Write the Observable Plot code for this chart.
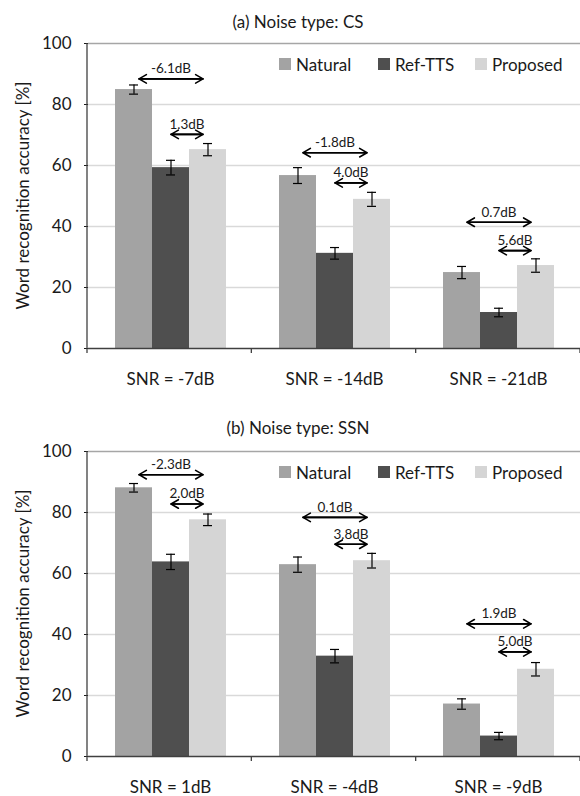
<!DOCTYPE html>
<html><head><meta charset="utf-8">
<script src="https://cdn.jsdelivr.net/npm/d3@7"></script>
<script src="https://cdn.jsdelivr.net/npm/@observablehq/plot@0.6"></script>
<style>
body{margin:0;width:580px;height:796px;overflow:hidden;background:#fff;font-family:Lato,sans-serif;color:#1a1a1a}
.chart{position:relative;width:580px}
.title{position:absolute;left:0;width:596px;text-align:center;font-size:17px;line-height:20px}
.item{position:absolute;top:56px;height:16px;display:flex;align-items:center;white-space:nowrap;font-size:17px}
.sw{width:12px;height:12px;margin-right:5px}
svg{display:block;overflow:visible}
</style></head><body>
<div id="a" class="chart" style="height:408px"></div>
<div id="b" class="chart" style="height:388px"></div>
<script>
const seriesNames = ["Natural", "Ref-TTS", "Proposed"];
const seriesColors = ["#a3a3a3", "#4f4f4f", "#d5d5d5"];
const yTicks = [0, 20, 40, 60, 80, 100];
const yLabel = "Word recognition accuracy [%]";

// (a) CS
const csTitle = "(a) Noise type: CS";
const csConditions = ["SNR = -7dB", "SNR = -14dB", "SNR = -21dB"];
const csNatural = [84.9, 56.7, 24.9];
const csRefTTS = [59.3, 31.2, 11.8];
const csProposed = [65.2, 48.9, 27.2];
const csNaturalErr = [1.5, 2.6, 2.0];
const csRefTTSErr = [2.4, 1.9, 1.4];
const csProposedErr = [2.0, 2.3, 2.2];
const csLongLabels = ["-6.1dB", "-1.8dB", "0.7dB"];
const csLongY = [88.4, 64.2, 41.4];
const csShortLabels = ["1.3dB", "4.0dB", "5.6dB"];
const csShortY = [70.2, 54.3, 32.1];

// (b) SSN
const ssnTitle = "(b) Noise type: SSN";
const ssnConditions = ["SNR = 1dB", "SNR = -4dB", "SNR = -9dB"];
const ssnNatural = [88.1, 62.9, 17.2];
const ssnRefTTS = [63.8, 32.9, 6.7];
const ssnProposed = [77.6, 64.2, 28.6];
const ssnNaturalErr = [1.4, 2.5, 1.7];
const ssnRefTTSErr = [2.5, 2.2, 1.2];
const ssnProposedErr = [1.9, 2.4, 2.2];
const ssnLongLabels = ["-2.3dB", "0.1dB", "1.9dB"];
const ssnLongY = [92.4, 78.4, 43.5];
const ssnShortLabels = ["2.0dB", "3.8dB", "5.0dB"];
const ssnShortY = [82.8, 69.6, 34.3];

function buildRows(conds, vals, errs) {
  const rows = [];
  conds.forEach((c, i) => seriesNames.forEach((s, j) =>
    rows.push({cond: c, series: s, value: vals[j][i], err: errs[j][i]})));
  return rows;
}
function buildAnn(conds, labels, ys, from, to) {
  return conds.map((c, i) => ({cond: c, label: labels[i], y: ys[i], from, to}));
}

function draw(id, title, titleTop, conds, rows, annLong, annShort, height, marginBottom) {
  const el = document.getElementById(id);
  const t = document.createElement("div");
  t.className = "title"; t.style.top = titleTop + "px"; t.textContent = title;
  const lo = d => d.value - d.err, hi = d => d.value + d.err;
  const arrowOpts = {fx: "cond", y1: "y", y2: "y", stroke: "#000", strokeWidth: 1.6, headLength: 8};
  const chart = Plot.plot({
    width: 580, height, marginTop: 43, marginBottom, marginLeft: 87, marginRight: 0,
    style: {fontFamily: "Lato, sans-serif", fontSize: "17px", color: "#1a1a1a", background: "transparent", overflow: "visible"},
    fx: {domain: conds, padding: 0, axis: "bottom", tickSize: 0, tickPadding: 24, label: null},
    x: {domain: seriesNames, padding: 0, axis: null, insetLeft: 27, insetRight: 26},
    y: {domain: [0, 100], ticks: yTicks, tickSize: 4, tickPadding: 13, label: null},
    color: {domain: seriesNames, range: seriesColors},
    marks: [
      Plot.ruleY(yTicks.filter(v => v > 0 && v < 100), {stroke: "#d9d9d9", strokeWidth: 1.3}),
      Plot.ruleY([100], {stroke: "#a6a6a6", strokeWidth: 1.3}),
      Plot.barY(rows, {fx: "cond", x: "series", y: "value", fill: "series"}),
      Plot.ruleX(rows, {fx: "cond", x: "series", y1: lo, y2: hi, stroke: "#000", strokeWidth: 1.2}),
      Plot.tickY(rows, {fx: "cond", x: "series", y: lo, stroke: "#000", strokeWidth: 1.2, insetLeft: 14, insetRight: 14}),
      Plot.tickY(rows, {fx: "cond", x: "series", y: hi, stroke: "#000", strokeWidth: 1.2, insetLeft: 14, insetRight: 14}),
      Plot.ruleY([0], {stroke: "#404040", strokeWidth: 1.3}),
      Plot.arrow(annLong, {...arrowOpts, x1: "from", x2: "to", insetStart: 5, insetEnd: 5}),
      Plot.arrow(annLong, {...arrowOpts, x1: "to", x2: "from", insetStart: 5, insetEnd: 5}),
      Plot.arrow(annShort, {...arrowOpts, x1: "from", x2: "to", insetStart: 0, insetEnd: 5}),
      Plot.arrow(annShort, {...arrowOpts, x1: "to", x2: "from", insetStart: 5, insetEnd: 0}),
      Plot.text(annLong, {fx: "cond", x: () => "Ref-TTS", y: "y", text: "label", dy: -10, fontSize: 13.5, fill: "#1a1a1a"}),
      Plot.text(annShort, {fx: "cond", x: () => "Ref-TTS", y: "y", text: "label", dy: -10, dx: 16, fontSize: 13.5, fill: "#1a1a1a"})
    ]
  });
  const svgNode = chart.tagName.toLowerCase() === "svg" ? chart : chart.querySelector("svg");
  const svg = d3.select(svgNode);
  const fxS = chart.scale("fx"), yS = chart.scale("y");
  const [r0, r1] = fxS.range, n = fxS.domain.length;
  const y0 = yS.range[0], yTop = yS.range[1];
  svg.append("line").attr("x1", r0).attr("x2", r0).attr("y1", yTop).attr("y2", y0 + 5)
    .attr("stroke", "#404040").attr("stroke-width", 1.3);
  for (let i = 1; i <= n; i++) {
    const x = r0 + i * (r1 - r0) / n;
    svg.append("line").attr("x1", x).attr("x2", x).attr("y1", y0).attr("y2", y0 + 5)
      .attr("stroke", "#404040").attr("stroke-width", 1.3);
  }
  svg.append("text").attr("transform", `translate(22,${(y0 + yTop) / 2}) rotate(-90)`)
    .attr("text-anchor", "middle").attr("dominant-baseline", "central")
    .attr("font-size", 17).attr("fill", "#1a1a1a").text(yLabel);
  el.appendChild(chart);
  el.appendChild(t);
  const legendLeft = [279, 378, 475];
  seriesNames.forEach((s, j) => {
    const it = document.createElement("div");
    it.className = "item"; it.style.left = legendLeft[j] + "px";
    const sw = document.createElement("span"); sw.className = "sw"; sw.style.background = seriesColors[j];
    const tx = document.createElement("span"); tx.textContent = s;
    it.appendChild(sw); it.appendChild(tx); el.appendChild(it);
  });
}

draw("a", csTitle, 12, csConditions,
  buildRows(csConditions, [csNatural, csRefTTS, csProposed], [csNaturalErr, csRefTTSErr, csProposedErr]),
  buildAnn(csConditions, csLongLabels, csLongY, "Natural", "Proposed"),
  buildAnn(csConditions, csShortLabels, csShortY, "Ref-TTS", "Proposed"), 408, 60);
draw("b", ssnTitle, 10, ssnConditions,
  buildRows(ssnConditions, [ssnNatural, ssnRefTTS, ssnProposed], [ssnNaturalErr, ssnRefTTSErr, ssnProposedErr]),
  buildAnn(ssnConditions, ssnLongLabels, ssnLongY, "Natural", "Proposed"),
  buildAnn(ssnConditions, ssnShortLabels, ssnShortY, "Ref-TTS", "Proposed"), 388, 40);
</script>
</body></html>
